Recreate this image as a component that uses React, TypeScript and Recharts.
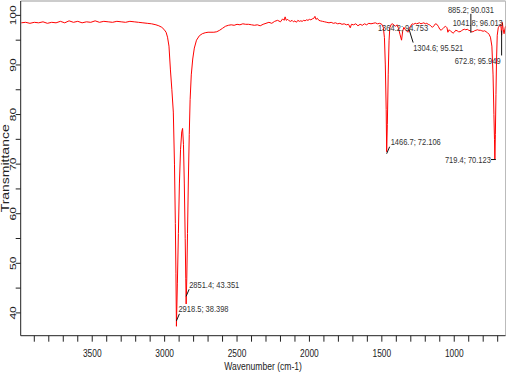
import React from "react";
import { LineChart, Line, XAxis, YAxis, ReferenceDot, ReferenceLine } from "recharts";

// FT-IR spectrum
const wavenumbers = [
  3990, 3960, 3930, 3900, 3870, 3840, 3810, 3780, 3750, 3720, 3690, 3660, 3630, 3600,
  3570, 3540, 3510, 3480, 3450, 3420, 3390, 3360, 3330, 3300, 3270, 3240, 3210, 3180,
  3150, 3120, 3090, 3060, 3040, 3020, 3005, 2990, 2980, 2970, 2960, 2950, 2940, 2932,
  2926, 2922, 2918.5, 2912, 2905, 2898, 2890, 2882, 2876, 2870, 2864, 2858, 2854, 2851.4,
  2847, 2842, 2836, 2830, 2824, 2816, 2806, 2795, 2780, 2760, 2740, 2720, 2700, 2680,
  2660, 2640, 2620, 2600, 2580, 2560, 2540, 2520, 2500, 2480, 2460, 2440, 2420, 2400,
  2380, 2360, 2340, 2320, 2300, 2280, 2260, 2240, 2220, 2200, 2185, 2175, 2168, 2160,
  2150, 2140, 2130, 2120, 2110, 2100, 2090, 2080, 2070, 2060, 2050, 2040, 2030, 2020,
  2010, 2000, 1990, 1980, 1970, 1962, 1955, 1945, 1935, 1925, 1910, 1895, 1880, 1865,
  1850, 1835, 1820, 1805, 1790, 1775, 1760, 1745, 1730, 1718, 1710, 1695, 1680, 1665,
  1650, 1635, 1620, 1605, 1590, 1575, 1560, 1545, 1530, 1515, 1500, 1490, 1482, 1476,
  1470, 1466.7, 1462, 1456, 1450, 1445, 1435, 1425, 1415, 1405, 1395, 1385, 1375, 1364,
  1356, 1348, 1340, 1330, 1320, 1310, 1300, 1290, 1280, 1270, 1260, 1250, 1240, 1230,
  1220, 1210, 1200, 1190, 1180, 1170, 1160, 1150, 1140, 1130, 1120, 1110, 1100, 1090,
  1080, 1070, 1060, 1050, 1044, 1035, 1025, 1015, 1008, 1000, 990, 980, 970, 960, 950,
  940, 930, 920, 910, 900, 890, 880, 870, 860, 850, 840, 830, 820, 810, 800, 790, 780,
  770, 760, 750, 740, 732, 726, 722, 719.4, 716, 712, 708, 703, 696, 688, 680, 676,
  672.8, 668, 662, 656, 650, 646,
];

const transmittance = [
  98.5, 98.6, 98.4, 98.6, 98.5, 98.7, 98.4, 98.6, 98.5, 98.8, 98.5, 98.9, 98.6, 98.8,
  98.5, 98.7, 98.6, 98.9, 98.6, 98.8, 98.7, 98.6, 98.8, 98.7, 98.6, 98.8, 98.7, 98.6,
  98.5, 98.4, 98.3, 98.1, 97.9, 97.6, 97.2, 96.6, 95.6, 93.8, 89.0, 85.0, 80.5, 70.0,
  58.0, 48.0, 37.3, 46.0, 56.0, 66.0, 73.0, 76.5, 77.2, 74.0, 66.0, 55.0, 47.0, 41.8,
  47.0, 56.0, 67.0, 76.0, 83.0, 88.0, 91.2, 93.4, 95.0, 95.9, 96.3, 96.5, 96.6, 96.6,
  96.6, 96.7, 97.0, 97.4, 97.8, 98.0, 98.1, 98.0, 98.2, 98.1, 98.3, 98.2, 98.2, 98.1,
  98.0, 98.1, 97.9, 98.2, 98.4, 98.6, 98.4, 98.8, 99.0, 98.7, 99.3, 99.0, 99.7, 99.0,
  99.2, 98.9, 98.8, 99.0, 98.7, 98.9, 98.6, 99.0, 98.8, 98.9, 98.8, 99.0, 98.9, 99.1,
  99.0, 99.2, 99.1, 99.3, 99.4, 99.8, 99.2, 99.4, 99.0, 98.9, 98.8, 98.7, 98.6, 98.5,
  98.6, 98.4, 98.5, 98.3, 98.4, 98.2, 98.3, 98.1, 98.2, 97.5, 98.2, 98.1, 98.3, 97.9,
  98.2, 98.0, 98.3, 98.1, 98.4, 98.3, 98.4, 98.5, 98.3, 98.4, 98.2, 97.6, 95.5, 90.0,
  81.0, 72.5, 78.0, 88.0, 95.0, 97.5, 98.2, 98.3, 98.0, 97.8, 98.1, 97.4, 96.2, 95.0,
  96.8, 97.6, 97.2, 96.9, 96.6, 97.4, 97.9, 98.3, 98.2, 98.4, 98.3, 98.4, 98.5, 98.3,
  98.4, 98.5, 98.3, 98.4, 98.2, 98.1, 97.8, 97.6, 97.9, 98.3, 98.2, 97.8, 97.2, 97.0,
  97.3, 97.6, 97.8, 97.5, 96.6, 97.1, 96.8, 96.6, 96.4, 96.6, 97.0, 96.9, 96.7, 96.7,
  96.9, 97.1, 97.2, 97.1, 97.2, 97.0, 96.9, 96.7, 96.7, 96.9, 97.0, 97.1, 97.0, 97.0,
  96.9, 96.8, 96.9, 96.7, 96.5, 96.2, 95.6, 93.8, 88.0, 80.0, 75.0, 71.0, 76.0, 84.0,
  91.0, 96.0, 97.5, 97.9, 98.2, 97.4, 96.0, 98.6, 97.2, 96.3, 97.3, 97.8,
];

const xTicks = [
  700, 800, 900, 1000, 1100, 1200, 1300, 1400, 1500, 1600, 1700, 1800, 1900, 2000,
  2100, 2200, 2300, 2400, 2500, 2600, 2700, 2800, 2900, 3000, 3100, 3200, 3300, 3400,
  3500, 3600, 3700, 3800, 3900,
];
const xTickLabels = [1000, 1500, 2000, 2500, 3000, 3500];
const yTicks = [40, 45, 50, 55, 60, 65, 70, 75, 80, 85, 90, 95, 100];
const yTickLabels = [40, 50, 60, 70, 80, 90, 100];

// peak picks printed on the plot
const peakWn = [2918.5, 2851.4, 1466.7, 719.4, 1364.2, 1304.6, 1041.8, 885.2, 672.8];
const peakT = [38.398, 43.351, 72.106, 70.123, 94.753, 95.521, 96.013, 90.031, 95.949];

// where each pick's text sits relative to its point
const peakLayout = [
  { dx: 2, dy: -12, anchor: "start", lead: [0, 0, 3, -7] },
  { dx: 3, dy: -12, anchor: "start", lead: [0, 0, 3, -7] },
  { dx: 4, dy: -12, anchor: "start", lead: [0, 0, 3, -7] },
  { dx: -4, dy: -3.5, anchor: "end", lead: [-4, -4, 1, -4] },
  { dx: 1.5, dy: -14, anchor: "middle", lead: null },
  { dx: 3, dy: 10, anchor: "start", lead: [-1, -8, 3, 5] },
  { dx: 4.5, dy: -12.4, anchor: "start", lead: null },
  { dx: 0, dy: -55.4, anchor: "middle", lead: [0, -51, 0, -32] },
  { dx: -1, dy: 25.6, anchor: "end", lead: [0, -5, 0, 20] },
];

const data = wavenumbers.map((wn, i) => ({ wn, t: transmittance[i] }));

const FONT = "'Liberation Sans', Arial, sans-serif";
const SQ = 0.8; // the original image is squeezed sideways

const XTick = (props: any) => {
  const { x, y, payload } = props;
  if (!xTickLabels.includes(payload.value)) return <g />;
  return (
    <g transform={`translate(${x},${y + 13}) scale(${SQ},1)`}>
      <text x={0} y={0} textAnchor="middle" fontSize={10.5} fontFamily={FONT} fill="#222">
        {payload.value}
      </text>
    </g>
  );
};

const YTick = (props: any) => {
  const { y, payload } = props;
  if (!yTickLabels.includes(payload.value)) return <g />;
  return (
    <g transform={`translate(13,${y}) scale(0.72,1) rotate(-90)`}>
      <text x={0} y={0} dy="0.36em" textAnchor="middle" fontSize={12} fontFamily={FONT} fill="#222">
        {payload.value}
      </text>
    </g>
  );
};

const XTitle = (props: any) => {
  const vb = props.viewBox || { x: 20.7, y: 335.7, width: 484.8 };
  return (
    <g transform={`translate(${vb.x + vb.width / 2},${vb.y + 34.5}) scale(${SQ},1)`}>
      <text x={0} y={0} textAnchor="middle" fontSize={10.7} fontFamily={FONT} fill="#222">
        Wavenumber (cm-1)
      </text>
    </g>
  );
};

const YTitle = (props: any) => {
  const vb = props.viewBox || { y: 1, height: 334.7 };
  return (
    <g transform={`translate(5,${vb.y + vb.height / 2}) scale(${SQ},1) rotate(-90)`}>
      <text x={0} y={0} dy={4.6} textAnchor="middle" fontSize={14} fontFamily={FONT} fill="#222">
        Transmittance
      </text>
    </g>
  );
};

const peakShape = (i: number) => (p: any) => {
  const { cx, cy } = p;
  const l = peakLayout[i];
  return (
    <g>
      {l.lead && (
        <line
          x1={cx + l.lead[0]}
          y1={cy + l.lead[1]}
          x2={cx + l.lead[2]}
          y2={cy + l.lead[3]}
          stroke="#111"
          strokeWidth={1}
        />
      )}
      <g transform={`translate(${cx + l.dx},${cy + l.dy}) scale(${SQ},1)`}>
        <text x={0} y={0} dy="0.35em" textAnchor={l.anchor} fontSize={9.4} fontFamily={FONT} fill="#333">
          {`${peakWn[i].toFixed(1)}; ${peakT[i].toFixed(3)}`}
        </text>
      </g>
    </g>
  );
};

export default function App() {
  return (
    <div style={{ position: "absolute", left: 0, top: 0, background: "#fff" }}>
      <LineChart
        width={510}
        height={390}
        data={data}
        margin={{ top: 1, right: 4.5, left: 0, bottom: 0 }}
      >
        <XAxis
          dataKey="wn"
          type="number"
          domain={[646, 3994]}
          reversed
          allowDataOverflow
          ticks={xTicks}
          interval={0}
          tickSize={6}
          height={54.3}
          axisLine={{ stroke: "#222" }}
          tickLine={{ stroke: "#222" }}
          tick={<XTick />}
          label={<XTitle />}
        />
        <YAxis
          type="number"
          domain={[35.4, 102.9]}
          allowDataOverflow
          ticks={yTicks}
          interval={0}
          tickSize={5}
          width={20.7}
          axisLine={{ stroke: "#222" }}
          tickLine={{ stroke: "#222" }}
          tick={<YTick />}
          label={<YTitle />}
        />
        <ReferenceLine y={102.9} stroke="#999" strokeWidth={1} />
        <ReferenceLine x={646} stroke="#bbb" strokeWidth={1} />
        <Line
          dataKey="t"
          type="linear"
          stroke="#ff0000"
          strokeWidth={1}
          dot={false}
          isAnimationActive={false}
        />
        {peakWn.map((wn, i) => (
          <ReferenceDot
            key={wn}
            x={wn}
            y={peakT[i]}
            r={0}
            ifOverflow="visible"
            shape={peakShape(i)}
          />
        ))}
      </LineChart>
    </div>
  );
}
